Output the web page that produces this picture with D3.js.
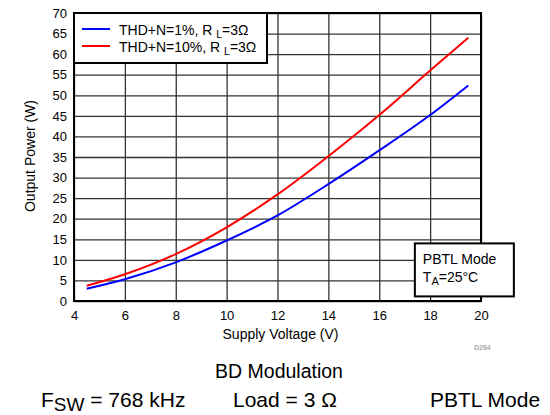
<!DOCTYPE html>
<html>
<head>
<meta charset="utf-8">
<script src="https://cdn.jsdelivr.net/npm/d3@7"></script>
<style>
  body { margin: 0; background: #fff; }
  text { font-family: "Liberation Sans", Arial, sans-serif; fill: #000; }
</style>
</head>
<body>
<div id="chart"></div>
<script>
// chart values
var volts = [4.5, 6, 8, 10, 12, 14, 16, 18, 19.5];
var thd1 = [3.0, 5.3, 9.4, 14.7, 20.8, 28.4, 36.6, 45.2, 52.4];
var thd10 = [3.7, 6.5, 11.4, 17.9, 25.9, 35.2, 45.2, 56.0, 64.0];
var xTicks = [4, 6, 8, 10, 12, 14, 16, 18, 20];
var yTicks = [0, 5, 10, 15, 20, 25, 30, 35, 40, 45, 50, 55, 60, 65, 70];
var seriesNames = ["THD+N=1%, R ", "THD+N=10%, R "];
var seriesColors = ["#0000ff", "#ff0000"];

var svgWidth = 550;
var svgHeight = 415;
var margin = { top: 13, right: 69, bottom: 114, left: 74 };
var width = svgWidth - margin.left - margin.right;
var height = svgHeight - margin.top - margin.bottom;

var svg = d3.select("#chart")
  .append("svg")
  .attr("width", svgWidth)
  .attr("height", svgHeight);

var chartGroup = svg.append("g")
  .attr("transform", `translate(${margin.left}, ${margin.top})`);

var x = d3.scaleLinear().domain([4, 20]).range([0, width]);
var y = d3.scaleLinear().domain([0, 70]).range([height, 0]);

// grid + tick labels
var xAxis = chartGroup.append("g")
  .attr("transform", `translate(0, ${height})`)
  .call(d3.axisBottom(x).tickValues(xTicks).tickSize(-height).tickPadding(10));
xAxis.select(".domain").remove();
xAxis.selectAll("line").attr("stroke", "#333").attr("stroke-width", 1.3);
xAxis.selectAll("text").attr("font-size", 13).attr("fill", "#000");

var yAxis = chartGroup.append("g")
  .call(d3.axisLeft(y).tickValues(yTicks).tickSize(-width).tickPadding(7));
yAxis.select(".domain").remove();
yAxis.selectAll("line").attr("stroke", "#333").attr("stroke-width", 1.3);
yAxis.selectAll("text").attr("font-size", 13).attr("fill", "#000");

// frame
chartGroup.append("rect")
  .attr("width", width)
  .attr("height", height)
  .attr("fill", "none")
  .attr("stroke", "#000")
  .attr("stroke-width", 2);

// curves
var line = d3.line()
  .x(d => x(d[0]))
  .y(d => y(d[1]))
  .curve(d3.curveMonotoneX);

[thd1, thd10].forEach(function (vals, i) {
  chartGroup.append("path")
    .datum(volts.map((v, j) => [v, vals[j]]))
    .attr("d", line)
    .attr("fill", "none")
    .attr("stroke", seriesColors[i])
    .attr("stroke-width", 2);
});

// legend
var legend = chartGroup.append("g");
legend.append("rect")
  .attr("x", 0).attr("y", 0)
  .attr("width", 193).attr("height", 50)
  .attr("fill", "#fff").attr("stroke", "#000").attr("stroke-width", 2);
seriesNames.forEach(function (name, i) {
  var ly = 16 + i * 17;
  legend.append("line")
    .attr("x1", 8).attr("x2", 36)
    .attr("y1", ly).attr("y2", ly)
    .attr("stroke", seriesColors[i]).attr("stroke-width", 2);
  var t = legend.append("text")
    .attr("x", 45).attr("y", ly + 5.5)
    .attr("font-size", 14);
  t.append("tspan").text(name);
  t.append("tspan").attr("font-size", 10.5).attr("dy", 3).text("L");
  t.append("tspan").attr("dy", -3).text("=3Ω");
});

// note box
var note = chartGroup.append("g")
  .attr("transform", `translate(${x(17.4)}, ${y(14)})`);
note.append("rect")
  .attr("width", 99).attr("height", 53)
  .attr("fill", "#fff").attr("stroke", "#000").attr("stroke-width", 2);
note.append("text").attr("x", 8).attr("y", 21).attr("font-size", 14).text("PBTL Mode");
var ta = note.append("text").attr("x", 8).attr("y", 39).attr("font-size", 14);
ta.append("tspan").text("T");
ta.append("tspan").attr("font-size", 11).attr("dy", 3).text("A");
ta.append("tspan").attr("dy", -3).text("=25°C");

// axis titles
chartGroup.append("text")
  .attr("transform", "rotate(-90)")
  .attr("x", -height / 2 + 1)
  .attr("y", -39)
  .attr("text-anchor", "middle")
  .attr("font-size", 14)
  .text("Output Power (W)");

chartGroup.append("text")
  .attr("x", width / 2 + 3)
  .attr("y", height + 38)
  .attr("text-anchor", "middle")
  .attr("font-size", 14)
  .text("Supply Voltage (V)");

chartGroup.append("text")
  .attr("x", width - 7)
  .attr("y", height + 49)
  .attr("font-size", 7)
  .attr("font-weight", "bold")
  .style("fill", "#aaa")
  .text("D284");

// captions under the chart
svg.append("text")
  .attr("x", 279).attr("y", 378)
  .attr("text-anchor", "middle")
  .attr("font-size", 19.5)
  .text("BD Modulation");

var fsw = svg.append("text").attr("x", 41).attr("y", 407).attr("font-size", 21);
fsw.append("tspan").text("F");
fsw.append("tspan").attr("font-size", 19).attr("dy", 4).text("SW");
fsw.append("tspan").attr("dy", -4).text(" = 768 kHz");

svg.append("text").attr("x", 233).attr("y", 407).attr("font-size", 21).text("Load = 3 Ω");
svg.append("text").attr("x", 430).attr("y", 407).attr("font-size", 21).text("PBTL Mode");
</script>
</body>
</html>
